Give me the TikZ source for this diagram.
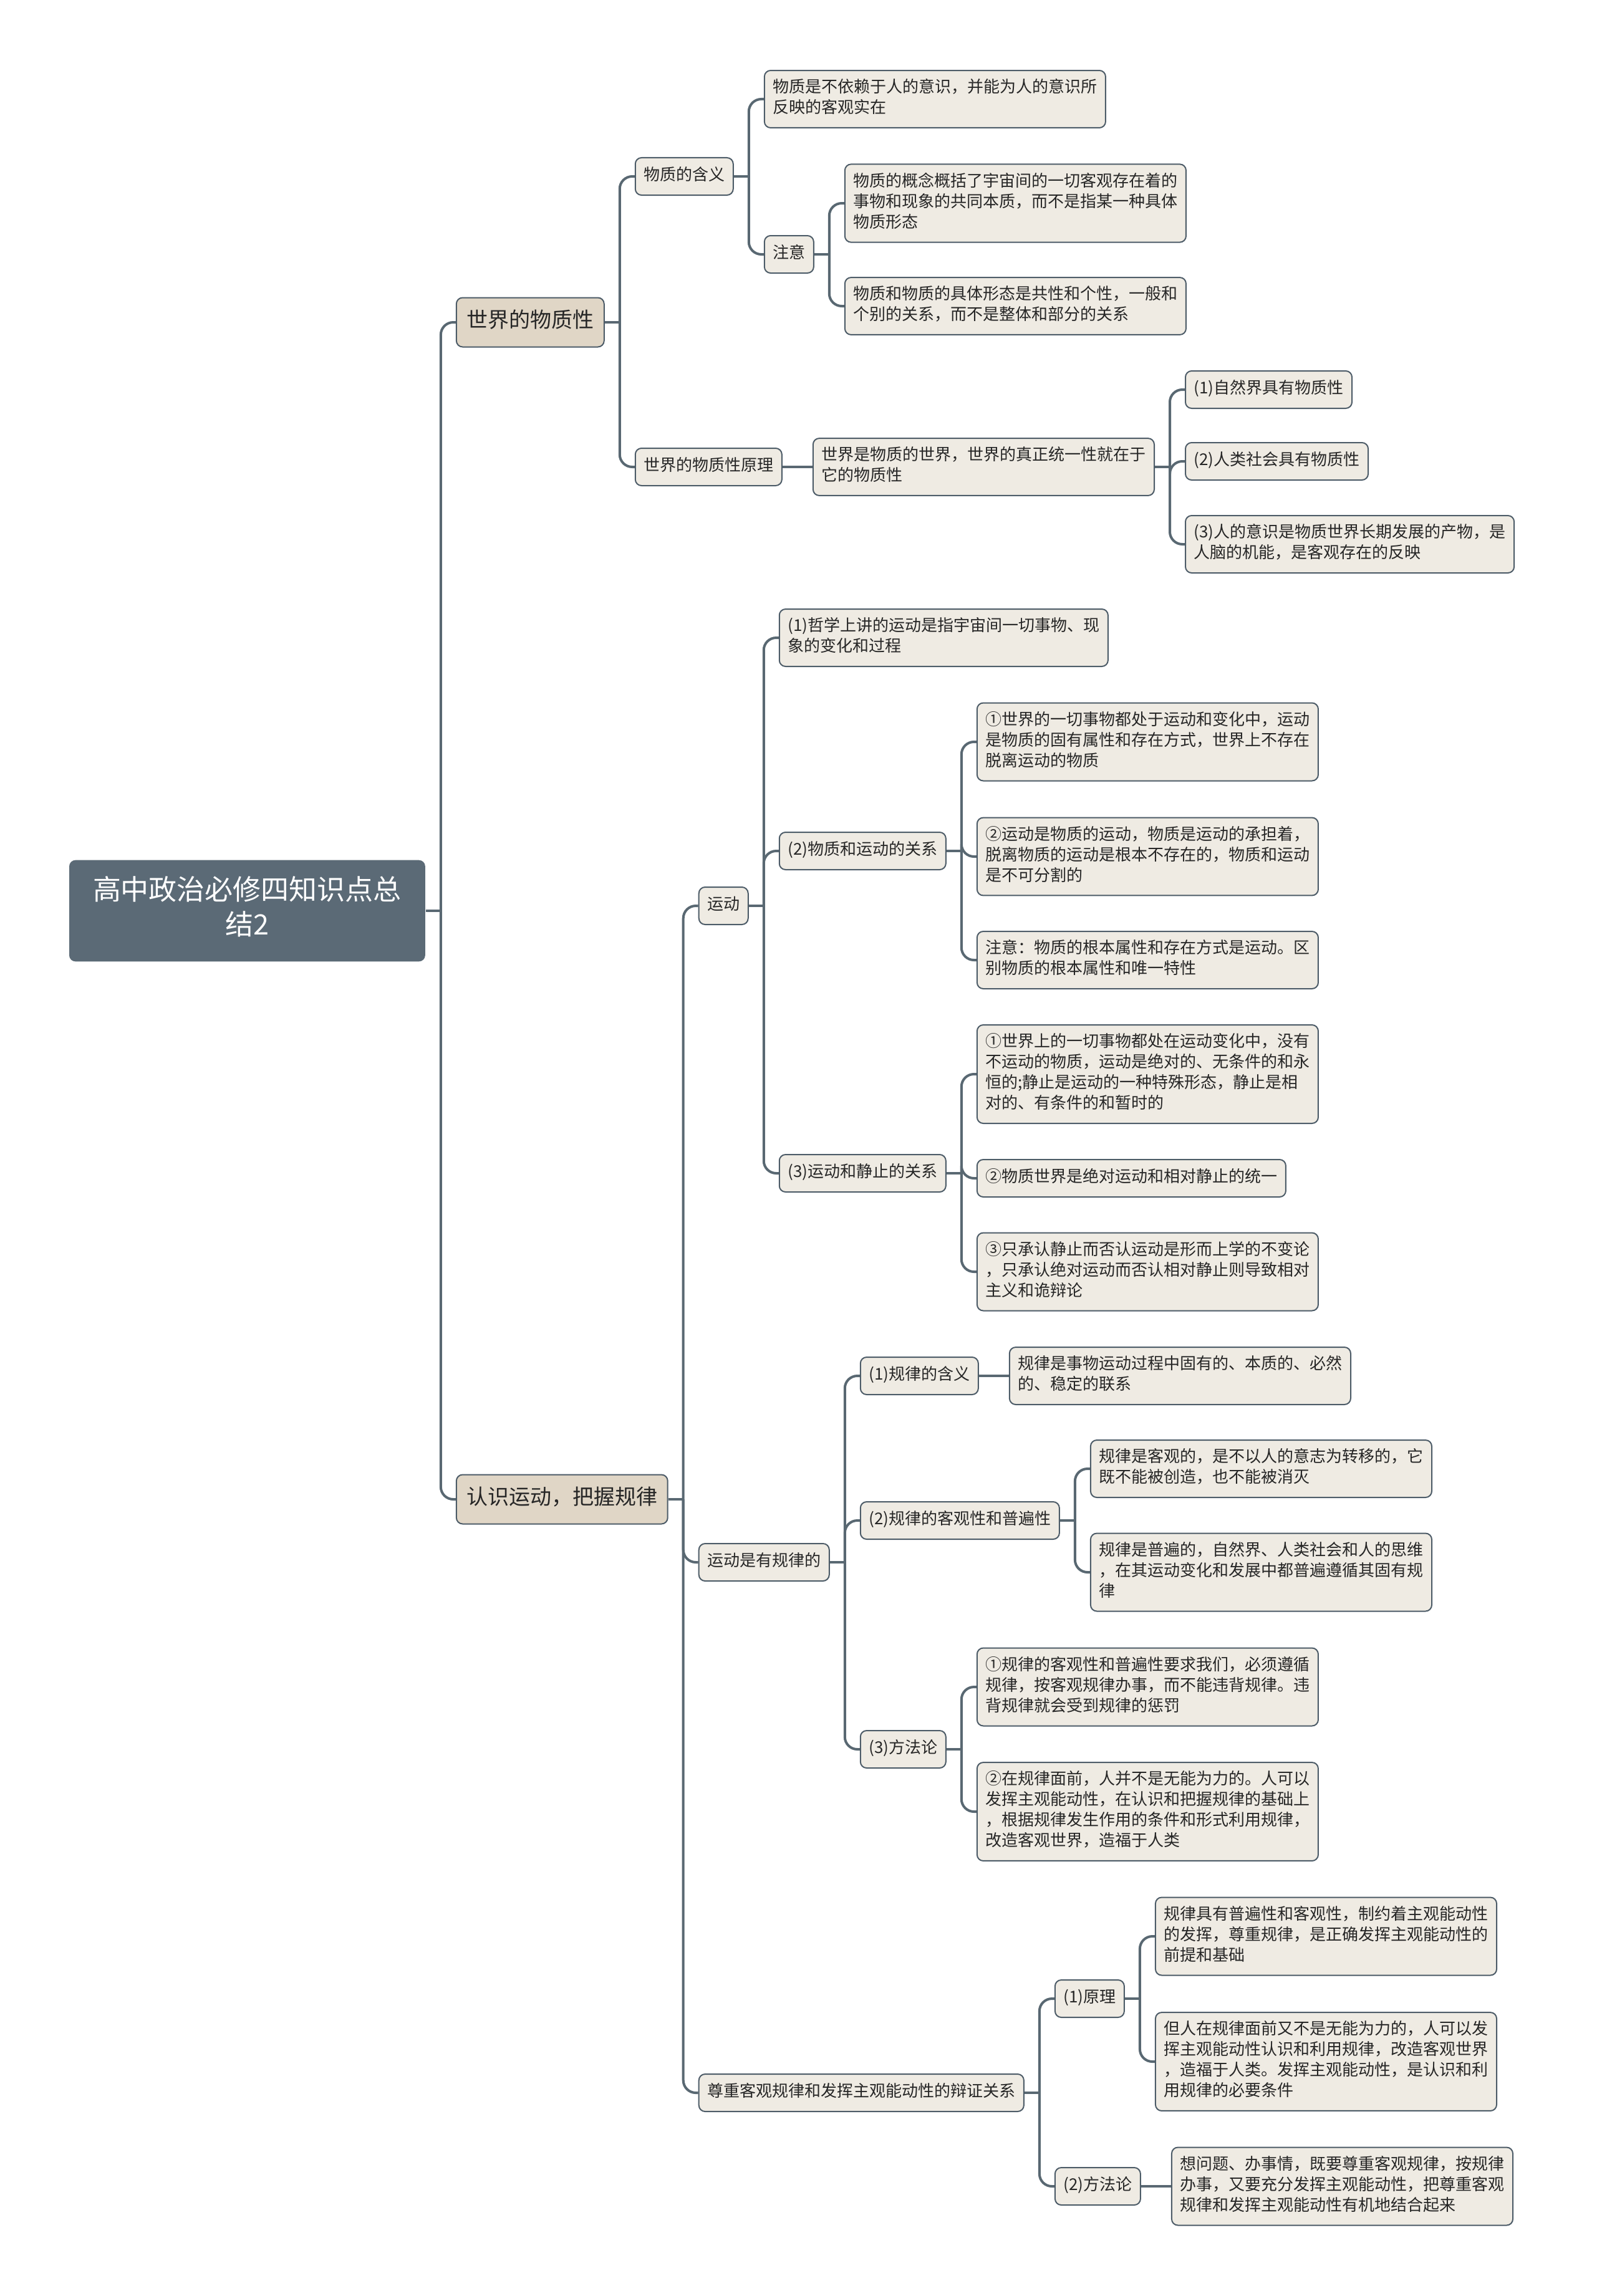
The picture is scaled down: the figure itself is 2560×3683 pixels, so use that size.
\documentclass[tikz,border=0pt]{standalone}
\usepackage{fontspec}
\setmainfont{Noto Sans CJK SC}
\usetikzlibrary{backgrounds}
\definecolor{rootfill}{HTML}{5B6A76}
\definecolor{topicfill}{HTML}{E0D6C6}
\definecolor{subfill}{HTML}{EFEBE3}
\definecolor{edgec}{HTML}{4D5C68}
\definecolor{linkc}{HTML}{596872}
\tikzset{
  box/.style={draw=edgec, line width=0.2mm, rounded corners=1mm, text=black!85,
    execute at begin node=\strut, execute at end node=\strut},
  rootbox/.style={box, draw=none, fill=rootfill, text=white, anchor=west, align=center,
    inner xsep=3.8mm, inner ysep=2.6mm, font={\fontsize{12.8pt}{15.9pt}\selectfont}},
  topic/.style={box, fill=topicfill, anchor=west, xshift=4.8mm, align=left,
    inner xsep=1.65mm, inner ysep=1.85mm, font={\fontsize{9.67pt}{11.95pt}\selectfont}},
  sub/.style={box, fill=subfill, anchor=west, xshift=4.8mm, align=left,
    inner xsep=1.35mm, inner ysep=1.35mm, font={\fontsize{7.4pt}{9.39pt}\selectfont}},
  link/.style={draw=linkc, line width=0.4mm}
}
\begin{document}
\begin{tikzpicture}[x=0.1mm, y=-0.1mm]
\useasboundingbox (0,0) rectangle (2560,3683);
\node[rootbox] (root) at (110,1461) {高中政治必修四知识点总\\结2};
\node[topic] (matter) at (root.east |- 0,517) {世界的物质性};
\node[topic] (knowlaw) at (root.east |- 0,2405) {认识运动，把握规律};
% 世界的物质性
\node[sub] (m-def) at (matter.east |- 0,283) {物质的含义};
\node[sub] (m-prin) at (matter.east |- 0,749) {世界的物质性原理};
\node[sub] (m-def-a) at (m-def.east |- 0,159) {物质是不依赖于人的意识，并能为人的意识所\\反映的客观实在};
\node[sub] (m-note) at (m-def.east |- 0,408) {注意};
\node[sub] (note-a) at (m-note.east |- 0,326) {物质的概念概括了宇宙间的一切客观存在着的\\事物和现象的共同本质，而不是指某一种具体\\物质形态};
\node[sub] (note-b) at (m-note.east |- 0,491) {物质和物质的具体形态是共性和个性，一般和\\个别的关系，而不是整体和部分的关系};
\node[sub] (prin-a) at (m-prin.east |- 0,749) {世界是物质的世界，世界的真正统一性就在于\\它的物质性};
\node[sub] (prin-a1) at (prin-a.east |- 0,625) {(1)自然界具有物质性};
\node[sub] (prin-a2) at (prin-a.east |- 0,740) {(2)人类社会具有物质性};
\node[sub] (prin-a3) at (prin-a.east |- 0,873) {(3)人的意识是物质世界长期发展的产物，是\\人脑的机能，是客观存在的反映};
% 认识运动，把握规律
\node[sub] (mov) at (knowlaw.east |- 0,1453) {运动};
\node[sub] (law) at (knowlaw.east |- 0,2506) {运动是有规律的};
\node[sub] (rel) at (knowlaw.east |- 0,3357) {尊重客观规律和发挥主观能动性的辩证关系};
\node[sub] (mov-1) at (mov.east |- 0,1023) {(1)哲学上讲的运动是指宇宙间一切事物、现\\象的变化和过程};
\node[sub] (mov-2) at (mov.east |- 0,1365) {(2)物质和运动的关系};
\node[sub] (mov-3) at (mov.east |- 0,1882) {(3)运动和静止的关系};
\node[sub] (mov-2a) at (mov-2.east |- 0,1190) {①世界的一切事物都处于运动和变化中，运动\\是物质的固有属性和存在方式，世界上不存在\\脱离运动的物质};
\node[sub] (mov-2b) at (mov-2.east |- 0,1374) {②运动是物质的运动，物质是运动的承担着，\\脱离物质的运动是根本不存在的，物质和运动\\是不可分割的};
\node[sub] (mov-2c) at (mov-2.east |- 0,1540) {注意：物质的根本属性和存在方式是运动。区\\别物质的根本属性和唯一特性};
\node[sub] (mov-3a) at (mov-3.east |- 0,1723) {①世界上的一切事物都处在运动变化中，没有\\不运动的物质，运动是绝对的、无条件的和永\\恒的;静止是运动的一种特殊形态，静止是相\\对的、有条件的和暂时的};
\node[sub] (mov-3b) at (mov-3.east |- 0,1890) {②物质世界是绝对运动和相对静止的统一};
\node[sub] (mov-3c) at (mov-3.east |- 0,2040) {③只承认静止而否认运动是形而上学的不变论\\，只承认绝对运动而否认相对静止则导致相对\\主义和诡辩论};
\node[sub] (law-1) at (law.east |- 0,2207) {(1)规律的含义};
\node[sub] (law-2) at (law.east |- 0,2439) {(2)规律的客观性和普遍性};
\node[sub] (law-3) at (law.east |- 0,2806) {(3)方法论};
\node[sub] (law-1a) at (law-1.east |- 0,2207) {规律是事物运动过程中固有的、本质的、必然\\的、稳定的联系};
\node[sub] (law-2a) at (law-2.east |- 0,2356) {规律是客观的，是不以人的意志为转移的，它\\既不能被创造，也不能被消灭};
\node[sub] (law-2b) at (law-2.east |- 0,2522) {规律是普遍的，自然界、人类社会和人的思维\\，在其运动变化和发展中都普遍遵循其固有规\\律};
\node[sub] (law-3a) at (law-3.east |- 0,2706) {①规律的客观性和普遍性要求我们，必须遵循\\规律，按客观规律办事，而不能违背规律。违\\背规律就会受到规律的惩罚};
\node[sub] (law-3b) at (law-3.east |- 0,2906) {②在规律面前，人并不是无能为力的。人可以\\发挥主观能动性，在认识和把握规律的基础上\\，根据规律发生作用的条件和形式利用规律，\\改造客观世界，造福于人类};
\node[sub] (rel-1) at (rel.east |- 0,3206) {(1)原理};
\node[sub] (rel-2) at (rel.east |- 0,3507) {(2)方法论};
\node[sub] (rel-1a) at (rel-1.east |- 0,3106) {规律具有普遍性和客观性，制约着主观能动性\\的发挥，尊重规律，是正确发挥主观能动性的\\前提和基础};
\node[sub] (rel-1b) at (rel-1.east |- 0,3307) {但人在规律面前又不是无能为力的，人可以发\\挥主观能动性认识和利用规律，改造客观世界\\，造福于人类。发挥主观能动性，是认识和利\\用规律的必要条件};
\node[sub] (rel-2a) at (rel-2.east |- 0,3507) {想问题、办事情，既要尊重客观规律，按规律\\办事，又要充分发挥主观能动性，把尊重客观\\规律和发挥主观能动性有机地结合起来};
\begin{scope}[on background layer]
\fill[white] (0,0) rectangle (2560,3683);
\foreach \p/\c in {root/matter, root/knowlaw, matter/m-def, matter/m-prin,
    m-def/m-def-a, m-def/m-note, m-note/note-a, m-note/note-b,
    prin-a/prin-a1, prin-a/prin-a2, prin-a/prin-a3, knowlaw/mov, knowlaw/law, knowlaw/rel,
    mov/mov-1, mov/mov-2, mov/mov-3, mov-2/mov-2a, mov-2/mov-2b, mov-2/mov-2c,
    mov-3/mov-3a, mov-3/mov-3b, mov-3/mov-3c, law/law-1, law/law-2, law/law-3,
    law-2/law-2a, law-2/law-2b, law-3/law-3a, law-3/law-3b,
    rel/rel-1, rel/rel-2, rel-1/rel-1a, rel-1/rel-1b} {
  \draw[link] (\p.east) -- ++(24,0);
  \draw[link, rounded corners=2mm] (\c.west) -| ([xshift=2.4mm]\p.east);
}
\foreach \p/\c in {m-prin/prin-a, law-1/law-1a, rel-2/rel-2a}
  \draw[link] (\p.east) -- (\c.west);
\end{scope}
\end{tikzpicture}
\end{document}
